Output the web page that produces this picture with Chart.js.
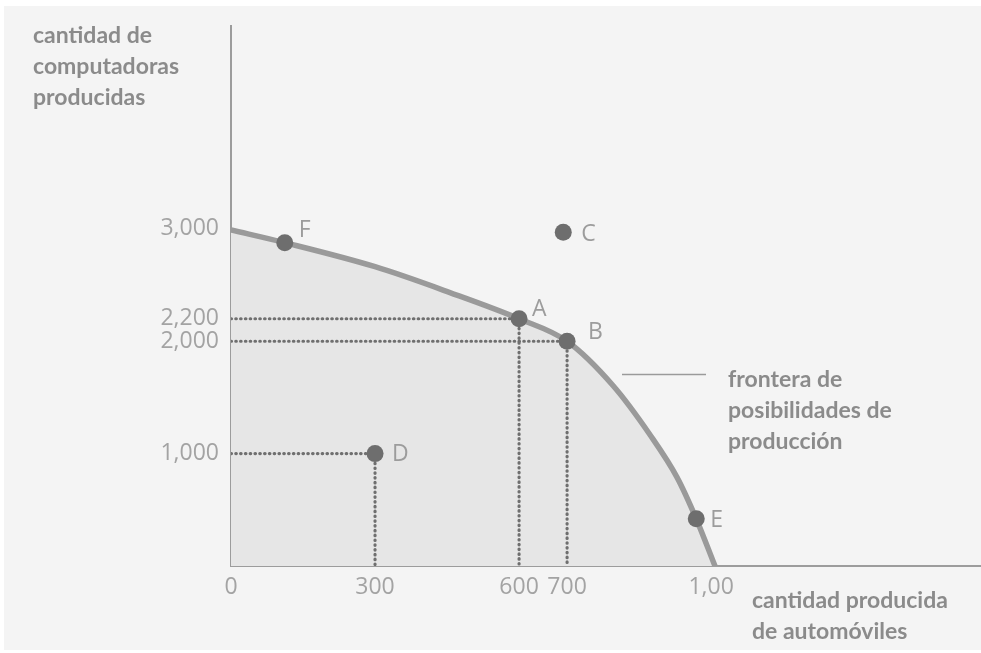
<!DOCTYPE html>
<html>
<head>
<meta charset="utf-8">
<script src="https://cdn.jsdelivr.net/npm/chart.js@4.4.1/dist/chart.umd.min.js"></script>
<style>
  html, body { margin: 0; padding: 0; background: #ffffff; }
  #wrap { width: 981px; height: 653px; }
</style>
</head>
<body>
<div id="wrap"><canvas id="ppf"></canvas></div>
<script>
// frontera de posibilidades de producción
const curveX = [0, 112, 300, 456, 600, 700, 796, 873, 929, 969, 1008];
const curveY = [2990, 2877, 2663, 2433, 2200, 2000, 1604, 1166, 789, 420, 0];

// puntos marcados
const pointNames = ['F', 'C', 'A', 'B', 'D', 'E'];
const pointX = [112, 692, 600, 700, 300, 969];
const pointY = [2877, 2970, 2200, 2000, 1000, 420];

// puntos con líneas punteadas hacia los ejes
const guideNames = ['A', 'B', 'D'];

const xTicks = [0, 300, 600, 700, 1000];
const xTickLabels = ['0', '300', '600', '700', '1,00'];
const yTicks = [1000, 2000, 2200, 3000];
const yTickLabels = ['1,000', '2,000', '2,200', '3,000'];

const yTitle = ['cantidad de', 'computadoras', 'producidas'];
const xTitle = ['cantidad producida', 'de automóviles'];
const curveTitle = ['frontera de', 'posibilidades de', 'producción'];

const GREY_TEXT = '#a3a3a3';
const TITLE_COLOR = '#8b8b8b';
const DOT_COLOR = '#6e6e6e';

const curveData = curveX.map((x, i) => ({ x: x, y: curveY[i] }));
const pointData = pointX.map((x, i) => ({ x: x, y: pointY[i] }));

const guideSets = guideNames.map(name => {
  const i = pointNames.indexOf(name);
  return {
    type: 'line',
    data: [{ x: 0, y: pointY[i] }, { x: pointX[i], y: pointY[i] }, { x: pointX[i], y: 0 }],
    borderColor: '#6f6f6f',
    borderWidth: 3.2,
    borderDash: [0.5, 4.3],
    borderCapStyle: 'round',
    pointRadius: 0,
    fill: false,
    tension: 0,
    order: 1
  };
});

// offsets for the letter next to each point
const labelOffset = { F: [14, -12], C: [18, 2], A: [13, -9], B: [21, -9], D: [17, 1], E: [14, 2] };

const decorPlugin = {
  id: 'decor',
  beforeDraw(chart) {
    const c = chart.ctx;
    c.save();
    c.fillStyle = '#ffffff';
    c.fillRect(0, 0, chart.width, chart.height);
    c.fillStyle = '#f4f4f4';
    c.fillRect(4, 6, chart.width - 4, chart.height - 9);
    c.restore();
  },
  afterDraw(chart) {
    const c = chart.ctx;
    c.save();
    // letters of the points
    const meta = chart.getDatasetMeta(0);
    c.font = '23px "Open Sans", sans-serif';
    c.fillStyle = '#9c9c9c';
    c.textBaseline = 'middle';
    c.textAlign = 'left';
    meta.data.forEach((el, i) => {
      const off = labelOffset[pointNames[i]] || [14, 0];
      c.fillText(pointNames[i], el.x + off[0], el.y + off[1]);
    });
    // titles
    c.font = 'bold 23px Lato, sans-serif';
    c.fillStyle = TITLE_COLOR;
    yTitle.forEach((t, i) => c.fillText(t, 33, 36 + i * 31));
    xTitle.forEach((t, i) => c.fillText(t, 752, 601 + i * 31));
    curveTitle.forEach((t, i) => c.fillText(t, 728, 380 + i * 31));
    // connector line for the curve title
    c.strokeStyle = '#9a9a9a';
    c.lineWidth = 1.5;
    c.beginPath();
    c.moveTo(622, 374.5);
    c.lineTo(706, 374.5);
    c.stroke();
    c.restore();
  }
};

new Chart(document.getElementById('ppf'), {
  type: 'scatter',
  data: {
    datasets: [
      {
        type: 'scatter',
        data: pointData,
        pointRadius: 8.5,
        pointHoverRadius: 8.5,
        pointBackgroundColor: DOT_COLOR,
        pointBorderColor: DOT_COLOR,
        pointBorderWidth: 0,
        order: 0
      },
      ...guideSets,
      {
        type: 'line',
        data: curveData,
        borderColor: '#9a9a9a',
        borderWidth: 5.5,
        backgroundColor: '#e6e6e6',
        fill: 'origin',
        pointRadius: 0,
        cubicInterpolationMode: 'monotone',
        order: 2
      }
    ]
  },
  options: {
    responsive: true,
    maintainAspectRatio: false,
    animation: false,
    layout: { autoPadding: false, padding: { top: 18, right: 1, left: 0, bottom: 0 } },
    plugins: {
      legend: { display: false },
      tooltip: { enabled: false },
      title: { display: false }
    },
    scales: {
      x: {
        type: 'linear',
        min: 0,
        max: 1560,
        afterBuildTicks: s => { s.ticks = xTicks.map(v => ({ value: v })); },
        afterFit: s => { s.height = 87; },
        grid: { display: false, drawTicks: false },
        border: { display: true, color: '#9c9c9c', width: 2 },
        ticks: {
          padding: 8,
          maxRotation: 0,
          autoSkip: false,
          color: GREY_TEXT,
          font: { family: '"Open Sans", sans-serif', size: 23 },
          callback: v => xTickLabels[xTicks.indexOf(v)]
        }
      },
      y: {
        type: 'linear',
        min: 0,
        max: 4807,
        afterBuildTicks: s => { s.ticks = yTicks.map(v => ({ value: v })); },
        afterFit: s => { s.width = 231; },
        grid: { display: false, drawTicks: false },
        border: { display: true, color: '#9c9c9c', width: 2 },
        ticks: {
          padding: 12,
          autoSkip: false,
          color: GREY_TEXT,
          font: { family: '"Open Sans", sans-serif', size: 23 },
          callback: v => yTickLabels[yTicks.indexOf(v)]
        }
      }
    }
  },
  plugins: [decorPlugin]
});
</script>
</body>
</html>
